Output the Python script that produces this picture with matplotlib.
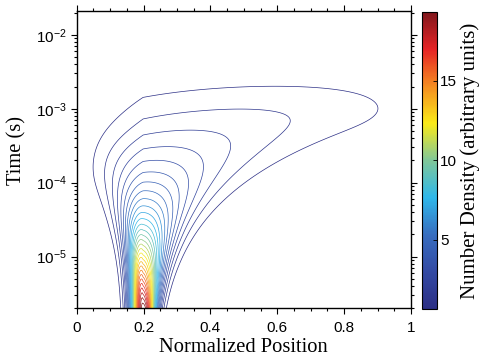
import numpy as np
import matplotlib
matplotlib.use("Agg")
import matplotlib.pyplot as plt
from matplotlib.colors import LinearSegmentedColormap, Normalize
from matplotlib.cm import ScalarMappable
from matplotlib.ticker import LogLocator, MultipleLocator, NullFormatter

# ---- values ----
x_source = 0.2          # normalized source position
peak_density = 20.0     # density at the first time shown
initial_width = 0.026   # initial gaussian width
diff_left = 30.0        # diffusion coefficient, x < x_source
diff_right = 105.0      # diffusion coefficient, x > x_source
drift = 240.0           # drift velocity to the right
wall_right = 1.08       # absorbing wall position on the right
t_start, t_end = 2e-6, 2.1e-2
n_levels = 30
cbar_ticks = [5, 10, 15]
x_ticks = [0, 0.2, 0.4, 0.6, 0.8, 1]
x_ticklabels = ["0", "0.2", "0.4", "0.6", "0.8", "1"]

# ---- field: drift-diffusion between absorbing walls ----
N = 432
h = wall_right / N
x = (np.arange(N) + 0.5) * h
faces = np.arange(N + 1) * h
Dface = np.where(faces < x_source - 1e-9, diff_left, diff_right)
M = np.zeros((N, N))
for j in range(1, N):
    a = Dface[j] / h + drift
    b = -Dface[j] / h
    M[j - 1, j - 1] -= a / h
    M[j - 1, j] -= b / h
    M[j, j - 1] += a / h
    M[j, j] += b / h
M[0, 0] += -2 * Dface[0] / h ** 2
M[N - 1, N - 1] -= (2 * Dface[N] / h + drift) / h

n0 = peak_density * np.exp(-(x - x_source) ** 2 / (2 * initial_width ** 2))
lam, V = np.linalg.eig(M)
coef = np.linalg.solve(V, n0)
times = np.logspace(np.log10(t_start), np.log10(t_end), 400)
field = np.real(V @ (np.exp(np.outer(lam, times - t_start)) * coef[:, None]))
field = field.T

levels = peak_density / (n_levels + 1) * np.arange(1, n_levels + 1)

# ---- style ----
plt.rcParams["font.family"] = ["Liberation Sans", "DejaVu Sans"]
plt.rcParams["mathtext.fontset"] = "custom"
plt.rcParams["mathtext.rm"] = "Liberation Sans"
plt.rcParams["mathtext.it"] = "Liberation Sans:italic"
plt.rcParams["mathtext.bf"] = "Liberation Sans:bold"

cmap = LinearSegmentedColormap.from_list("mjet", [
    (0.000, (0.17, 0.18, 0.52)),
    (0.125, (0.20, 0.29, 0.64)),
    (0.250, (0.22, 0.43, 0.75)),
    (0.375, (0.18, 0.72, 0.92)),
    (0.500, (0.50, 0.78, 0.60)),
    (0.625, (0.98, 0.92, 0.10)),
    (0.750, (0.96, 0.55, 0.13)),
    (0.875, (0.90, 0.14, 0.15)),
    (1.000, (0.50, 0.09, 0.11)),
])
norm = Normalize(vmin=levels[0], vmax=levels[-1])

fig = plt.figure(figsize=(4.79, 3.6), dpi=100)
ax = fig.add_axes([0.160, 0.1436, 0.698, 0.8258])
ax.contour(x, times, field, levels=levels, cmap=cmap, norm=norm, linewidths=0.5)
ax.set_yscale("log")
ax.set_xlim(0, 1)
ax.set_ylim(t_start, t_end)
ax.set_xticks(x_ticks)
ax.set_xticklabels(x_ticklabels)
ax.xaxis.set_minor_locator(MultipleLocator(0.05))
ax.yaxis.set_major_locator(LogLocator(base=10, numticks=10))
ax.yaxis.set_minor_locator(LogLocator(base=10, subs=np.arange(2, 10), numticks=20))
ax.yaxis.set_minor_formatter(NullFormatter())
ax.tick_params(which="both", direction="out", top=True, right=True, labelsize=11, width=0.8)
ax.tick_params(which="major", length=4)
ax.tick_params(which="minor", length=2.2)
ax.tick_params(axis="x", which="major", pad=5)
ax.tick_params(axis="y", which="major", pad=3)
for s in ax.spines.values():
    s.set_linewidth(1.0)
ax.set_xlabel("Normalized Position", family=["Liberation Serif"], fontsize=14.8, labelpad=2)
ax.set_ylabel("Time (s)", family=["Liberation Serif"], fontsize=14.8)
ax.yaxis.set_label_coords(-0.15, 0.53)

cax = fig.add_axes([0.880, 0.141, 0.033, 0.8265])
sm = ScalarMappable(norm=norm, cmap=cmap)
cb = fig.colorbar(sm, cax=cax, ticks=cbar_ticks)
cb.outline.set_linewidth(0.8)
cax.tick_params(direction="in", length=3, labelsize=11, width=0.6, pad=2)
cb.set_label("Number Density (arbitrary units)", family=["Liberation Serif"], fontsize=15, labelpad=2)

fig.savefig("out.png", dpi=100)
